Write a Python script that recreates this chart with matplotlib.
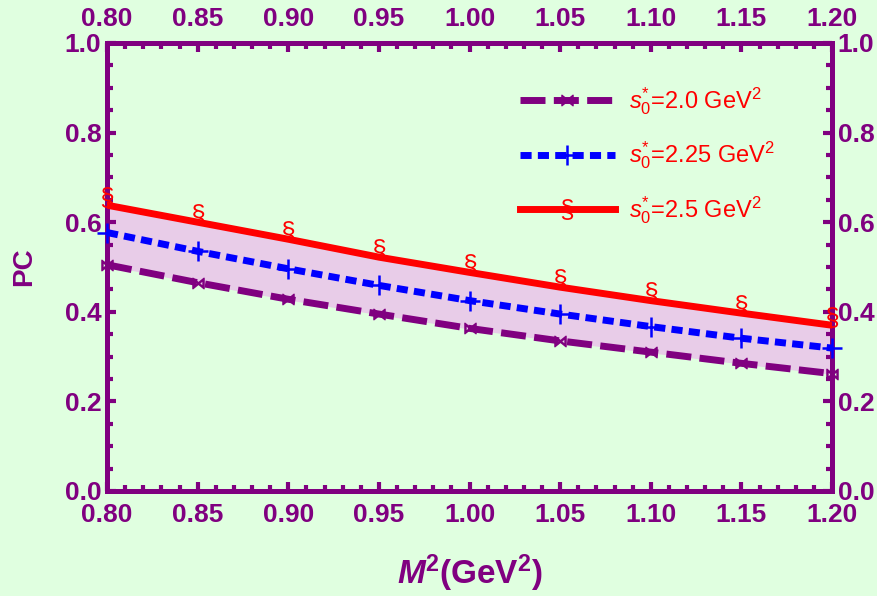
import matplotlib
matplotlib.use("Agg")
import matplotlib.pyplot as plt
import matplotlib.transforms as mtransforms
from matplotlib.ticker import MultipleLocator, FormatStrFormatter

# Data
m2 = [0.80, 0.85, 0.90, 0.95, 1.00, 1.05, 1.10, 1.15, 1.20]
pc_20 = [0.505, 0.465, 0.428, 0.395, 0.363, 0.335, 0.310, 0.285, 0.262]
pc_225 = [0.577, 0.535, 0.496, 0.459, 0.425, 0.395, 0.367, 0.341, 0.319]
pc_25 = [0.638, 0.600, 0.562, 0.522, 0.488, 0.455, 0.425, 0.397, 0.370]
labels = [r"$s_0^{*}$=2.0 GeV$^2$", r"$s_0^{*}$=2.25 GeV$^2$", r"$s_0^{*}$=2.5 GeV$^2$"]

purple = "#800080"
bg = "#E0FFE0"

plt.rcParams['font.family'] = ['Liberation Sans', 'DejaVu Sans']
plt.rcParams['mathtext.fontset'] = 'custom'
plt.rcParams['mathtext.it'] = 'Liberation Sans:italic'
plt.rcParams['mathtext.rm'] = 'Liberation Sans'
plt.rcParams['mathtext.bf'] = 'Liberation Sans:bold'
plt.rcParams['mathtext.bfit'] = 'Liberation Sans:italic:bold'

fig = plt.figure(figsize=(8.78, 5.96), dpi=100, facecolor=bg)
ax = fig.add_axes([107 / 878, 1 - 491 / 596, (832 - 107) / 878, (491 - 43) / 596])
ax.set_facecolor(bg)

ax.fill_between(m2, pc_20, pc_25, color="#E8CCE8", zorder=1)

ax.plot(m2, pc_20, color=purple, lw=5, dashes=(3.6, 1.2), zorder=3)
ax.plot(m2, pc_225, color="#0000FF", lw=5, dashes=(1.6, 0.9), zorder=4)
ax.plot(m2, pc_25, color="#FF0000", lw=5, zorder=5)

# markers (glyphs sit slightly above the curve points)
up = mtransforms.ScaledTranslation(0, 6 / 72, fig.dpi_scale_trans)
ax.plot(m2, pc_20, ls="none", marker=r"$\bowtie$", ms=8, color=purple, zorder=6, clip_on=False)
ax.plot(m2, pc_225, ls="none", marker="+", ms=14, mew=1.8, color="#0000FF", zorder=6, clip_on=False)
ax.plot(m2, pc_25, ls="none", marker=r"$\S$", ms=15, mew=0, color="#FF0000", zorder=6,
        transform=ax.transData + up, clip_on=False)

# legend with markers in the handle
h1, = ax.plot([], [], color=purple, lw=5, dashes=(3.6, 1.2), marker=r"$\bowtie$", ms=8)
h2, = ax.plot([], [], color="#0000FF", lw=5, dashes=(1.6, 0.9), marker="+", ms=14, mew=1.8)
h3, = ax.plot([], [], color="#FF0000", lw=5, marker=r"$\S$", ms=15, mew=0)
leg = ax.legend([h1, h2, h3], labels, loc="upper left", frameon=False, fontsize=17,
                handlelength=4.0, handletextpad=0.6, numpoints=1, borderpad=0,
                borderaxespad=0, bbox_to_anchor=(0.570, 0.905), labelspacing=0.95)
for t in leg.get_texts():
    t.set_color("#FF0000")

ax.set_xlim(0.8, 1.2)
ax.set_ylim(0.0, 1.0)
ax.xaxis.set_major_locator(MultipleLocator(0.05))
ax.xaxis.set_minor_locator(MultipleLocator(0.01))
ax.yaxis.set_major_locator(MultipleLocator(0.2))
ax.yaxis.set_minor_locator(MultipleLocator(0.05))
ax.xaxis.set_major_formatter(FormatStrFormatter("%.2f"))
ax.yaxis.set_major_formatter(FormatStrFormatter("%.1f"))

ax.tick_params(which="both", direction="in", top=True, right=True, labeltop=True, labelright=True,
               color=purple, width=3, labelcolor=purple, labelsize=19)
ax.tick_params(which="major", length=6.5)
ax.tick_params(which="minor", length=4.5)
ax.tick_params(axis="x", which="major", pad=9)
ax.tick_params(axis="y", which="major", pad=4)
for lab in ax.get_xticklabels() + ax.get_yticklabels():
    lab.set_fontweight("bold")
for s in ax.spines.values():
    s.set_color(purple)
    s.set_linewidth(3.6)

ax.set_xlabel(r"$\mathbfit{M}^{\mathbf{2}}$(GeV$^{\mathbf{2}}$)", fontsize=24,
              fontweight="bold", color=purple, labelpad=18)
ax.set_ylabel("PC", fontsize=20, fontweight="bold", color=purple, labelpad=20)

fig.savefig("out.png", dpi=100, facecolor=bg)
